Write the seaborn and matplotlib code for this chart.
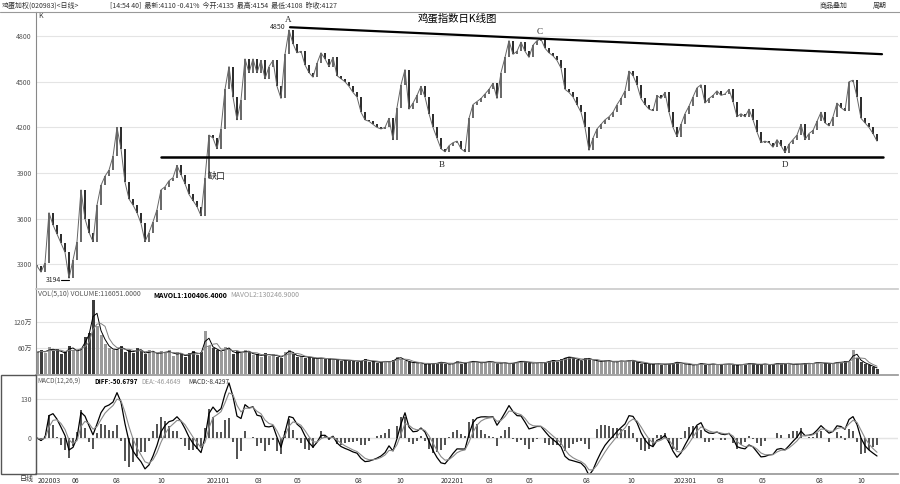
import numpy as np
import pandas as pd
import seaborn as sns
import matplotlib.pyplot as plt
from matplotlib.patches import Rectangle

# egg index closes, one value about every 4 trading days
close = [
    3290, 3250, 3310, 3640, 3560, 3500, 3440, 3380, 3210, 3330,
    3450, 3790, 3600, 3510, 3450, 3690, 3820, 3880, 3920, 4010,
    4200, 4060, 3840, 3730, 3690, 3640, 3570, 3450, 3510, 3580,
    3660, 3790, 3810, 3850, 3870, 3950, 3890, 3830, 3760, 3720,
    3680, 3620, 3870, 4150, 4130, 4060, 4190, 4450, 4600, 4400,
    4250, 4380, 4650, 4560, 4650, 4560, 4640, 4520, 4600, 4640,
    4470, 4390, 4680, 4840, 4750, 4690, 4700, 4610, 4560, 4530,
    4620, 4690, 4650, 4600, 4660, 4540, 4520, 4500, 4470, 4430,
    4400, 4300, 4250, 4240, 4220, 4200, 4190, 4200, 4260, 4120,
    4330, 4480, 4580, 4320, 4360, 4410, 4470, 4400, 4290, 4200,
    4130, 4060, 4040, 4080, 4100, 4110, 4060, 4040, 4260, 4350,
    4370, 4390, 4420, 4450, 4490, 4390, 4560, 4660, 4770, 4680,
    4700, 4760, 4700, 4660, 4740, 4770, 4780, 4720, 4690, 4670,
    4640, 4590, 4450, 4430, 4400, 4350, 4300, 4200, 4050, 4130,
    4190, 4220, 4250, 4270, 4300, 4350, 4390, 4440, 4570, 4540,
    4480, 4390, 4350, 4320, 4310, 4410, 4390, 4430, 4300, 4200,
    4140, 4220, 4290, 4340, 4400, 4460, 4480, 4360, 4390, 4410,
    4440, 4410, 4420, 4450, 4370, 4270, 4290, 4270, 4320, 4250,
    4170, 4100, 4110, 4100, 4070, 4120, 4080, 4035, 4090, 4120,
    4150, 4220, 4120, 4160, 4180, 4240, 4300, 4230, 4210, 4270,
    4360, 4330, 4310, 4500, 4510, 4400, 4260, 4230, 4200, 4160,
    4110,
]

# volume in 万 (10k)
volume = [
    50, 55, 48, 62, 52, 58, 47, 50, 65, 55, 52, 60,
    85, 95, 170, 110, 90,
    70, 60, 55, 58, 65, 50, 55, 48, 60, 52, 45, 55,
    50, 45, 52, 48, 55, 42, 50, 45, 40, 48, 52, 44, 50,
    100,
    65, 60, 55, 50, 62, 58, 45, 52, 48, 55, 50, 44, 46, 40, 48, 42, 45, 40, 38, 50,
    55, 45, 40, 42, 38, 40, 36, 35, 38, 34, 36, 32, 35, 30, 33, 30, 32, 28, 30, 35,
    28, 30, 26, 28, 30, 27, 32, 40,
    35, 30, 28, 25, 27, 24, 22, 25, 23, 26, 28, 24, 22, 25, 30, 24, 26, 28, 30, 27,
    25, 28, 30, 26, 24, 27, 25, 23, 26, 28,
    30, 28, 26, 24, 28, 25, 27, 30, 32, 28, 35, 38, 40, 36, 33, 30, 38, 34, 32, 30,
    28, 32, 30, 27, 29, 31, 28, 33, 30, 27,
    24, 26, 22, 23, 25, 21, 24, 22, 26, 28, 24, 23, 22, 20, 23, 25, 21, 22, 24, 20,
    23, 22, 24, 21, 20, 23, 22, 25, 23, 21,
    22, 24, 20, 23, 25, 22, 26, 23, 21, 24, 22, 26, 23, 25, 28, 24, 26, 23, 25, 28,
    26, 30, 28, 55, 36, 28, 24, 20, 16, 12,
]

price_ticks = [3300, 3600, 3900, 4200, 4500, 4800]
vol_ticks = [60, 120]
vol_tick_labels = ['60万', '120万']
macd_ticks = [0, 130]

# month labels and the bar they fall on
date_pos = [0.25, 8.75, 19, 30, 42.5, 54.5, 64.25, 79.5, 89.75, 101,
            112.25, 122.25, 136.5, 147.5, 159.25, 170, 180.5, 194.75, 205]
date_labels = ['202003', '06', '08', '10', '202101', '03', '05', '08', '10', '202201',
               '03', '05', '08', '10', '202301', '03', '05', '08', '10']

# hand drawn lines: resistance from A, support under B / D
resist_x = [63.25, 211.25]
resist_y = [4858, 4681]
support_x = [31, 211.5]
support_y = [4009, 4009]

df = pd.DataFrame({'close': close, 'vol': np.array(volume) * 1e4})
df['idx'] = np.arange(len(df))
df['open'] = df['close'].shift(1).fillna(df['close'])
df['up'] = df['close'] >= df['open']
df['ma1'] = df['vol'].rolling(2, min_periods=1).mean()
df['ma2'] = df['vol'].rolling(4, min_periods=1).mean()
# MACD(12,26,9), spans shortened because each bar is ~4 trading days
fast = df['close'].ewm(span=3.5, adjust=False).mean()
slow = df['close'].ewm(span=7.5, adjust=False).mean()
df['diff'] = fast - slow
df['dea'] = df['diff'].ewm(span=3, adjust=False).mean()
df['macd'] = 2 * (df['diff'] - df['dea'])

sns.set_theme(style='white')
plt.rcParams['font.family'] = ['Noto Sans CJK SC', 'DejaVu Sans']

W, H = 900, 484
fig = plt.figure(figsize=(9, 4.84), dpi=100)


def box(x0, y0, x1, y1):
    return [x0 / W, 1 - y1 / H, (x1 - x0) / W, (y1 - y0) / H]


def ftxt(x, y, s, **kw):
    kw.setdefault('fontsize', 5.5)
    kw.setdefault('va', 'center')
    fig.text(x / W, 1 - y / H, s, **kw)


ax_p = fig.add_axes(box(36, 12, 898, 289))
ax_v = fig.add_axes(box(36, 289, 898, 374), sharex=ax_p)
ax_m = fig.add_axes(box(36, 375, 898, 474), sharex=ax_p)

# --- price panel
body_lo = np.minimum(df['open'], df['close'])
body_h = np.maximum((df['close'] - df['open']).abs(), 8)
sns.lineplot(data=df, x='idx', y='close', ax=ax_p, color='#666666', lw=0.7)
ax_p.bar(df['idx'], body_h, bottom=body_lo, width=0.45,
         color=np.where(df['up'], '#6a6a6a', '#2e2e2e'), linewidth=0)
ax_p.plot(resist_x, resist_y, color='black', lw=1.6)
ax_p.plot(support_x, support_y, color='black', lw=1.8)
ax_p.set_ylim(3139, 4958)
ax_p.set_yticks(price_ticks)

serif = ['Liberation Serif', 'DejaVu Serif']
ax_p.text(62.75, 4905, 'A', fontsize=6.5, family=serif, ha='center', va='center')
ax_p.text(62, 4859, '4850', fontsize=5, ha='right', va='center')
ax_p.text(125.75, 4826, 'C', fontsize=6.5, family=serif, ha='center', va='center')
ax_p.text(101.25, 3950, 'B', fontsize=6.5, family=serif, ha='center', va='center')
ax_p.text(187, 3950, 'D', fontsize=6.5, family=serif, ha='center', va='center')
ax_p.text(42.75, 3877, '缺口', fontsize=6.5, ha='left', va='center')
ax_p.text(6, 3198, '3194', fontsize=5, ha='right', va='center')
ax_p.plot([6.1, 7.9], [3198, 3198], color='black', lw=0.8)
ax_p.text(0.2, 4930, 'K', fontsize=5, ha='left', va='center', color='#333')

# --- volume panel
ax_v.bar(df['idx'], df['vol'], width=0.75,
         color=np.where(df['up'], '#9a9a9a', '#3c3c3c'), linewidth=0)
sns.lineplot(data=df, x='idx', y='ma1', ax=ax_v, color='black', lw=0.7)
sns.lineplot(data=df, x='idx', y='ma2', ax=ax_v, color='#808080', lw=0.7)
ax_v.set_ylim(0, 196e4)
ax_v.set_yticks([v * 1e4 for v in vol_ticks])
ax_v.set_yticklabels(vol_tick_labels)

# --- MACD panel
ax_m.bar(df['idx'], df['macd'], width=0.7, color='#555555', linewidth=0)
sns.lineplot(data=df, x='idx', y='diff', ax=ax_m, color='black', lw=0.9)
sns.lineplot(data=df, x='idx', y='dea', ax=ax_m, color='#8a8a8a', lw=0.8)
ax_m.axhline(0, color='#b0b0b0', lw=0.8, zorder=0)
ax_m.set_ylim(-120, 210)
ax_m.set_yticks(macd_ticks)
ax_m.set_xticks(date_pos)
ax_m.set_xticklabels(date_labels)
for lbl in ax_m.get_xticklabels():
    lbl.set_ha('left')

for ax in (ax_p, ax_v, ax_m):
    ax.set_xlim(-0.25, 215.25)
    ax.set_xlabel('')
    ax.set_ylabel('')
    for s in ('top', 'right', 'bottom'):
        ax.spines[s].set_visible(False)
    ax.spines['left'].set_color('#888888')
    ax.spines['left'].set_linewidth(0.8)
    ax.grid(axis='y', color='#e4e4e4', lw=0.8)
    ax.grid(axis='x', visible=False)
    ax.tick_params(axis='y', length=0, pad=3, labelsize=5, labelcolor='#555555')
    ax.tick_params(axis='x', length=0, pad=2, labelsize=5, labelcolor='#333333')
ax_p.tick_params(axis='x', labelbottom=False)
ax_v.tick_params(axis='x', labelbottom=False)
ax_m.spines['top'].set_visible(True)
ax_m.spines['top'].set_color('#999999')
ax_m.spines['bottom'].set_visible(True)
ax_m.spines['bottom'].set_color('#999999')
ax_v.spines['top'].set_visible(True)
ax_v.spines['top'].set_color('#cccccc')

# frame bits outside the axes
fig.add_artist(plt.Line2D([0, 1], [1 - 12 / H, 1 - 12 / H], color='#999999', lw=0.8))
fig.add_artist(Rectangle((0.001, 1 - 474 / H), 35 / W, 99 / H, fill=False,
                         ec='#555555', lw=1.0, transform=fig.transFigure))

ftxt(2, 6, '鸡蛋加权(020983)<日线>', color='#333333', fontsize=5)
ftxt(110, 6, '[14:54 40]  最新:4110 -0.41%  今开:4135  最高:4154  最低:4108  昨收:4127',
     color='#333333', fontsize=5)
ftxt(820, 6, '商品叠加', color='#333333', fontsize=5)
ftxt(873, 6, '周期', color='#333333', fontsize=5)
ftxt(457, 18, '鸡蛋指数日K线图', ha='center', fontsize=7.5, color='black')

ftxt(38, 295, 'VOL(5,10) VOLUME:116051.0000', color='#555555', fontsize=5)
ftxt(153, 295, 'MAVOL1:100406.4000', color='black', fontsize=5, fontweight='bold')
ftxt(230, 295, 'MAVOL2:130246.9000', color='#999999', fontsize=5)

ftxt(37, 382, 'MACD(12,26,9)', color='#555555', fontsize=4.6)
ftxt(94, 382, 'DIFF:-50.6797', color='black', fontsize=4.6, fontweight='bold')
ftxt(141, 382, 'DEA:-46.4649', color='#999999', fontsize=4.6)
ftxt(188, 382, 'MACD:-8.4297', color='#333333', fontsize=4.6)

ftxt(20, 479, '日线', color='#333333', fontsize=5)

fig.savefig('out.png', dpi=100)
